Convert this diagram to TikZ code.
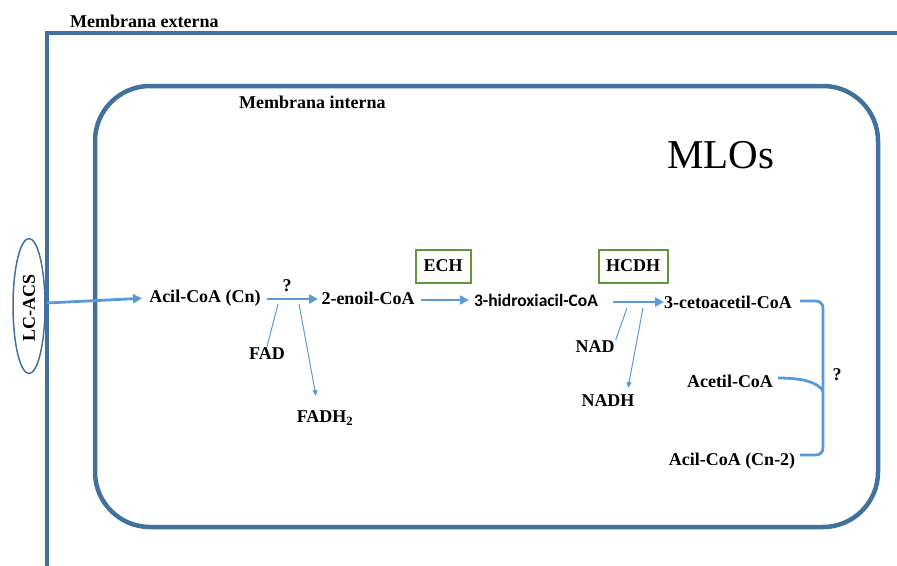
\documentclass[tikz,border=0pt]{standalone}
\usepackage{fontspec}
\setmainfont{Liberation Serif}
\newfontfamily\carl{Carlito}
\usetikzlibrary{arrows.meta,shapes.geometric}
\definecolor{memblue}{HTML}{41719C}
\definecolor{arrblue}{HTML}{5B9BD5}
\definecolor{boxgreen}{HTML}{62963A}
\tikzset{
  mem/.style={draw=memblue, line width=4.5pt},
  lbl/.style={font=\bfseries\fontsize{18}{20}\selectfont, inner sep=1pt},
  arr/.style={draw=arrblue, line width=2.8pt, -{Triangle[length=9pt,width=9pt]}},
  thin/.style={draw=arrblue, line width=1pt},
  thinarr/.style={draw=arrblue, line width=1pt, -{Triangle[length=6pt,width=5pt]}},
  enz/.style={draw=boxgreen, line width=2pt, font=\bfseries\fontsize{18}{20}\selectfont, minimum width=55pt, minimum height=33pt, inner sep=2pt},
  brk/.style={draw=arrblue, line width=2.8pt}
}
\begin{document}
\begin{tikzpicture}[x=1pt,y=-1pt]
\useasboundingbox (0,0) rectangle (897,565);
% membranes
\draw[mem] (47,567) -- (47,33) -- (899,33);
\draw[mem, rounded corners=55] (95,86) rectangle (878,527);
\node[lbl, anchor=west] (mext) at (69,21) {Membrana externa};
\node[lbl, anchor=west] (mint) at (238,102) {Membrana interna};
\node[font=\fontsize{41}{44}\selectfont] (mlos) at (721,155) {MLOs};
% LC-ACS
\node[draw=memblue, line width=1.5pt, ellipse, minimum width=32pt, minimum height=135pt, inner sep=0pt] (lcacs) at (29,306) {};
\node[lbl, rotate=90] (lctext) at (29,308) {LC-ACS};
% metabolites
\node[lbl] (acil) at (205,298) {Acil-CoA (Cn)};
\node[lbl] (enoil) at (368,298) {2-enoil-CoA};
\node[font=\carl\bfseries\fontsize{17.5}{20}\selectfont, inner sep=1pt] (hidroxi) at (536,300) {3-hidroxiacil-CoA};
\node[lbl] (ceto) at (728,302) {3-cetoacetil-CoA};
\node[lbl] (acetil) at (730,381) {Acetil-CoA};
\node[lbl] (acil2) at (732,461) {Acil-CoA (Cn-2)};
\node[lbl] (fad) at (267,354) {FAD};
\node[lbl] (fadh) at (325,418) {FADH\textsubscript{2}};
\node[lbl] (nad) at (595,347) {NAD};
\node[lbl] (nadh) at (608,401) {NADH};
\node[lbl] (q1) at (287,286) {?};
\node[lbl] (q2) at (837,375) {?};
% enzymes
\node[enz] (ech) at (443,266) {ECH};
\node[enz, minimum width=69pt] (hcdh) at (633,266) {HCDH};
% arrow coordinates
\coordinate (s0) at (47,303);
\coordinate (s1) at (267,299);
\coordinate (e1) at (318,299);
\coordinate (s2) at (421,300);
\coordinate (e2) at (469,300);
\coordinate (s3) at (613,302);
\coordinate (e3) at (664,302);
\coordinate (f1) at (278,304);
\coordinate (f2) at (299,304);
\coordinate (f3) at (316,396);
\coordinate (n1) at (627,308);
\coordinate (n2) at (643,308);
\coordinate (n3) at (628,388);
\coordinate (b1) at (800,301);
\coordinate (b2) at (823,455);
\coordinate (b3) at (800,455);
\coordinate (b4) at (778,378);
\coordinate (b5) at (823,391);
% arrows
\draw[arr, shorten >=6pt] (s0) -- (acil.west);
\draw[arr] (s1) -- (e1);
\draw[arr] (s2) -- (e2);
\draw[arr] (s3) -- (e3);
\draw[thin] (f1) -- (fad.north);
\draw[thinarr] (f2) -- (f3);
\draw[thin] (n1) -- (nad.north east);
\draw[thinarr] (n2) -- (n3);
% bracket
\draw[brk, rounded corners=7] (b1) -| (b2) -- (b3);
\draw[brk] (b4) .. controls (805,378) and (818,383) .. (b5);
\end{tikzpicture}
\end{document}
